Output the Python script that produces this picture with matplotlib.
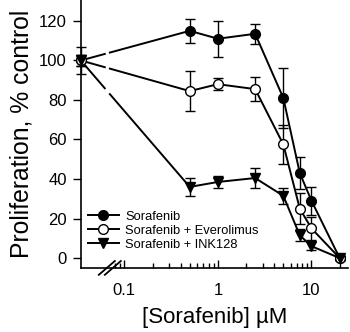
import numpy as np
import matplotlib
matplotlib.use('Agg')
import matplotlib.pyplot as plt
from matplotlib.ticker import FixedLocator, FixedFormatter

plt.rcParams['font.family'] = ['Liberation Sans', 'DejaVu Sans']

# data
conc = [0.5, 1, 2.5, 5, 7.5, 10, 20]
ctrl_x = 0.0343
ctrl_y = 100

sor = [115, 111, 113.5, 81, 43, 29, 0]
sor_err = [6, 9, 5, 15, 8, 7, 1]
eve = [84.5, 88, 85.5, 57.5, 25, 15, 0]
eve_err = [10, 3, 6, 10, 8, 6, 1]
ink = [36, 38.5, 40.5, 31.5, 11.5, 6, 0]
ink_err = [4.5, 3, 5, 4, 3, 2, 1]
ctrl_err = [7, 3, 3]

labels = ['Sorafenib', 'Sorafenib + Everolimus', 'Sorafenib + INK128']
markers = ['o', 'o', 'v']
faces = ['black', 'white', 'black']

fig = plt.figure(figsize=(3.5, 3.32), dpi=100)
ax = fig.add_axes([0.231, 0.193, 0.763, 0.807])
ax.set_xscale('log')
ax.set_xlim(ctrl_x, 24.5)
ax.set_ylim(-5, 130.6)

# break in the x axis
brk_a, brk_b = 0.0618, 0.070

for ys, es, ce, lab, m, fc in zip([sor, eve, ink], [sor_err, eve_err, ink_err],
                                 ctrl_err, labels, markers, faces):
    lx = np.log10([ctrl_x, conc[0]])
    ly = [ctrl_y, ys[0]]
    ya = np.interp(np.log10(brk_a), lx, ly)
    yb = np.interp(np.log10(brk_b), lx, ly)
    ax.plot([ctrl_x, brk_a], [ctrl_y, ya], color='black', lw=1.4, clip_on=False)
    ax.plot([brk_b, conc[0]], [yb, ys[0]], color='black', lw=1.4)
    ax.errorbar([ctrl_x], [ctrl_y], yerr=[ce], fmt='none', ecolor='black',
                capsize=3.5, elinewidth=1, capthick=1, clip_on=False, zorder=3)
    ax.plot([ctrl_x], [ctrl_y], marker=m, color='black', mfc=fc, mec='black',
            ms=7, ls='none', clip_on=False, zorder=5)
    ax.errorbar(conc, ys, yerr=es, fmt='none', ecolor='black', capsize=3.5,
                elinewidth=1, capthick=1, clip_on=False, zorder=3)
    ax.plot(conc, ys, marker=m, color='black', mfc=fc, mec='black', ms=7,
            lw=1.4, clip_on=False, zorder=4, label=lab)

# break marks
for off in [0, 6]:
    xs = np.array([99, 115]) + off
    xv = 10 ** (np.log10(0.1) - (124.5 - xs) / 93.5)
    ax.plot(xv, [-8.5, -1.5], color='black', lw=1.3, clip_on=False, zorder=6)

ax.spines['top'].set_visible(False)
ax.spines['right'].set_visible(False)
ax.spines['left'].set_linewidth(1.2)
ax.spines['bottom'].set_linewidth(1.2)

ax.set_yticks([0, 20, 40, 60, 80, 100, 120])
ax.tick_params(axis='y', direction='out', length=6, width=1, labelsize=12, pad=4)
ax.xaxis.set_major_locator(FixedLocator([0.1, 1, 10]))
ax.xaxis.set_major_formatter(FixedFormatter(['0.1', '1', '10']))
minors = [0.08, 0.09] + [i / 10 for i in range(2, 10)] + list(range(2, 10)) + [20]
ax.xaxis.set_minor_locator(FixedLocator(minors))
ax.xaxis.set_minor_formatter(FixedFormatter([''] * len(minors)))
ax.tick_params(axis='x', which='major', direction='in', length=6, width=1,
               labelsize=12, pad=11)
ax.tick_params(axis='x', which='minor', direction='in', length=3.5, width=1)

ax.set_ylabel('Proliferation, % control', fontsize=17.8, labelpad=4)
ax.set_xlabel('[Sorafenib] µM', fontsize=16, labelpad=6)

leg = ax.legend(loc='lower left', bbox_to_anchor=(0.026, 0.065), frameon=False,
                fontsize=9.3, handlelength=2.4, handletextpad=0.5,
                labelspacing=0.15, borderpad=0, borderaxespad=0)

fig.savefig('out.png', dpi=100)
